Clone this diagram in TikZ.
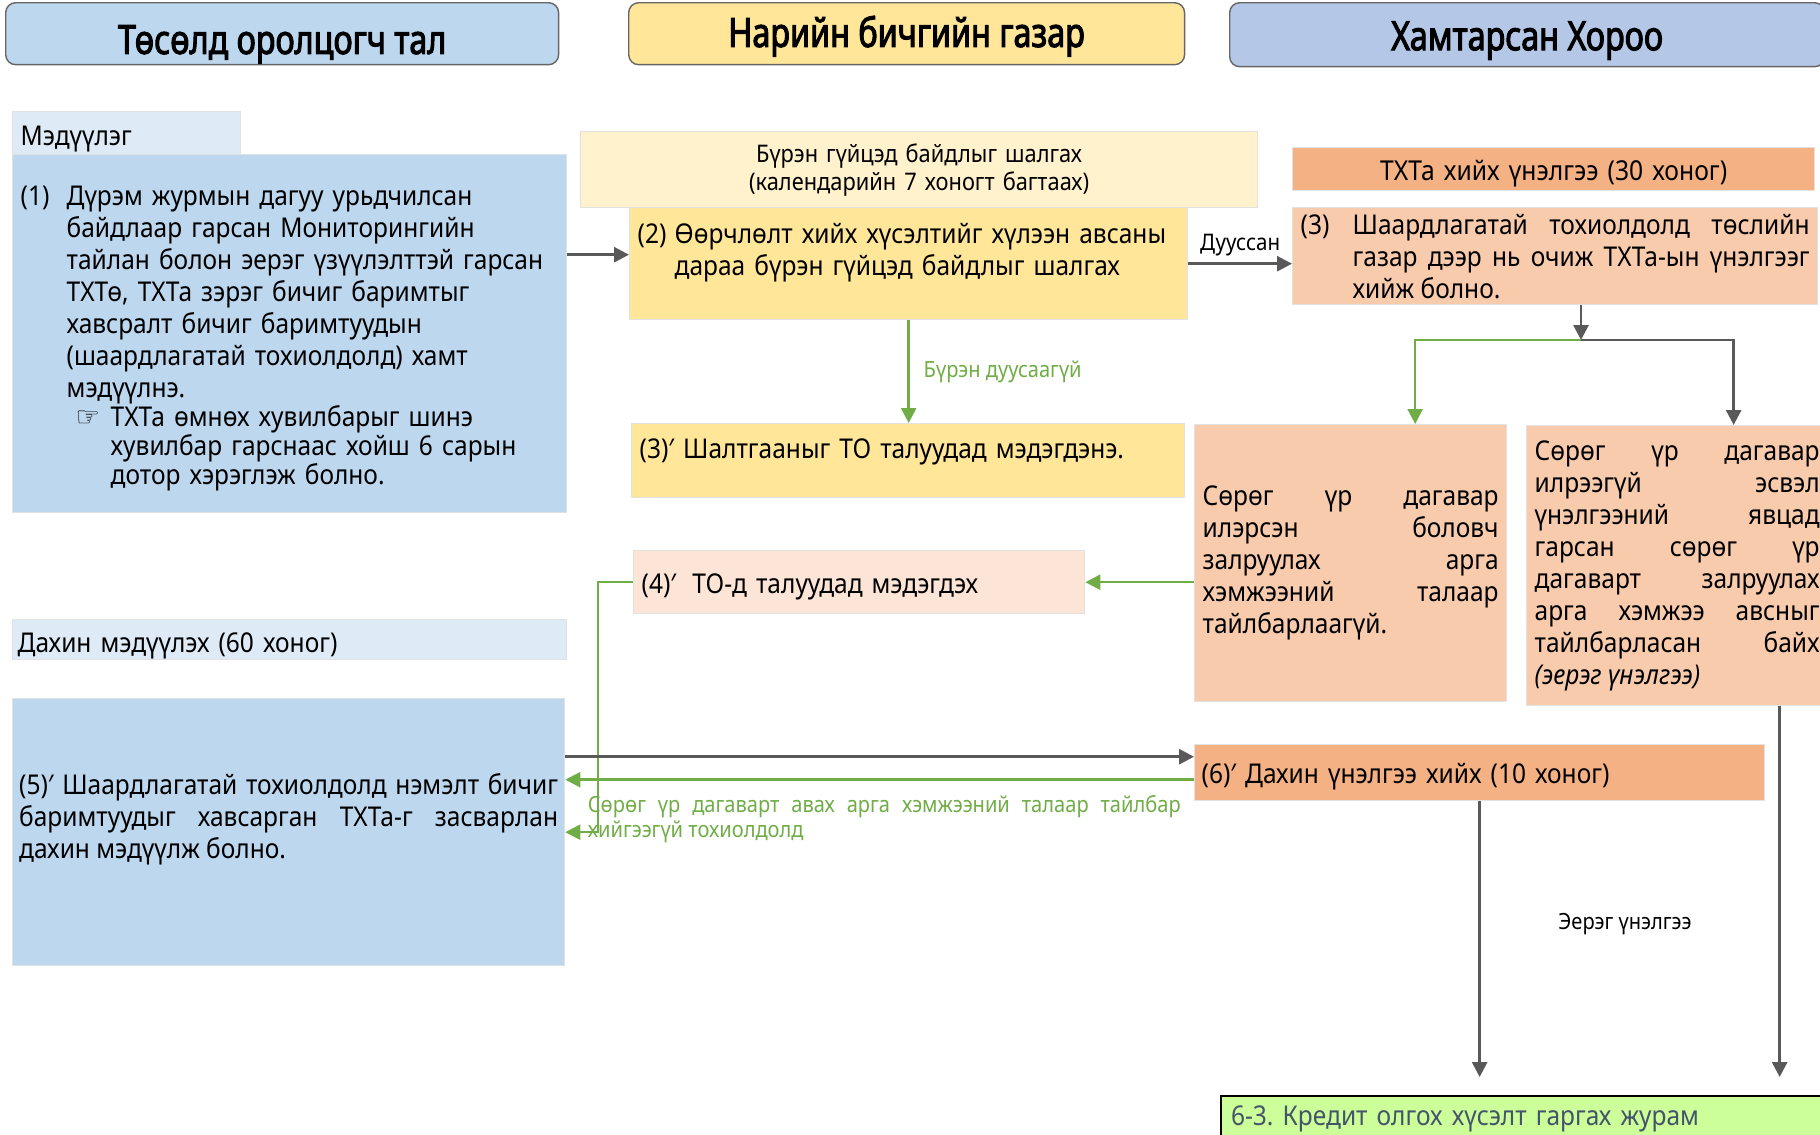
\documentclass[tikz,border=0pt]{standalone}
\usepackage{fontspec}
\setmainfont{Noto Sans}[FakeStretch=0.9]
\newfontfamily\headfont{Noto Sans}[FakeStretch=0.8, FakeBold=2.5]
\newfontfamily\symfont{DejaVu Sans}
\usetikzlibrary{arrows.meta,positioning}
\setlength{\parindent}{0pt}
\frenchspacing

\definecolor{hdblue}{HTML}{BDD7EE}
\definecolor{paleblue}{HTML}{DEEBF7}
\definecolor{laneblue}{HTML}{B4C7E7}
\definecolor{gold}{HTML}{FFE699}
\definecolor{cream}{HTML}{FFF2CC}
\definecolor{apricot}{HTML}{F4B183}
\definecolor{peach}{HTML}{F8CBAD}
\definecolor{palepeach}{HTML}{FCE4D6}
\definecolor{leaf}{HTML}{70AD47}
\definecolor{darkline}{HTML}{595959}
\definecolor{lime}{HTML}{CCFF99}
\definecolor{slate}{HTML}{44546A}
\definecolor{boxedge}{HTML}{E2E2E2}

\newcommand{\tailgap}[1]{\rule[-#1]{0pt}{#1}}
\newcommand{\bodyfont}{\fontsize{15.5}{18.2}\selectfont}
\newcommand{\termfont}{\fontsize{15.6}{18.2}\selectfont}
\newcommand{\smallfont}{\fontsize{13.8}{15.9}\selectfont}
\newcommand{\labelfont}{\fontsize{13}{15.9}\selectfont}
\newcommand{\tinyfont}{\fontsize{12.7}{14.7}\selectfont}

\tikzset{
  box/.style={draw=boxedge, line width=0.8pt, anchor=north west,
    inner xsep=0.16cm, inner ysep=0pt, font=\bodyfont},
  oneline/.style={text depth=0pt, text height=#1},
  head/.style={draw=gray!80!black, rounded corners=0.2cm, line width=0.8pt,
    anchor=north west, text depth=0pt, font=\headfont\fontsize{23}{26}\selectfont},
  gra/.style={darkline, line width=1.6pt, -{Triangle[length=0.3cm,width=0.3cm]}},
  grn/.style={leaf, line width=1.4pt, -{Triangle[length=0.3cm,width=0.3cm]}},
}

\begin{document}
\begin{tikzpicture}[x=0.02cm, y=-0.02cm]
\useasboundingbox (0,0) rectangle (1820,1134);
\clip (0,0) rectangle (1820,1134);

% lane headers
\node[head, fill=hdblue, minimum width=11.06cm, minimum height=1.24cm, text height=0.81cm] (lane1) at (5,2) {Төсөлд оролцогч тал};
\node[head, fill=gold, minimum width=11.12cm, minimum height=1.24cm, text height=0.53cm] (lane2) at (628,2) {Нарийн бичгийн газар};
\node[head, fill=laneblue, minimum width=11.9cm, minimum height=1.28cm, text height=0.62cm] (lane3) at (1229,2) {Хамтарсан Хороо};

% project side
\node[box, fill=paleblue, minimum width=4.56cm, minimum height=0.86cm, text width=4.24cm, align=left, oneline=0.51cm] (apply) at (12,111) {Мэдүүлэг};
\node[box, fill=hdblue, minimum width=11.08cm, minimum height=7.16cm, text width=10.76cm, align=left, text height=0.57cm] (req) at (12,154) {%
\hangindent=0.92cm\hangafter=1
\makebox[0.92cm][l]{(1)}Дүрэм журмын дагуу урьдчилсан\newline
байдлаар гарсан Мониторингийн\newline
тайлан болон эерэг үзүүлэлттэй гарсан\newline
ТХТө, ТХТа зэрэг бичиг баримтыг\newline
хавсралт бичиг баримтуудын\newline
(шаардлагатай тохиолдолд) хамт\newline
мэдүүлнэ.\par
\baselineskip=16.5pt\hangindent=1.8cm\hangafter=0
\hspace*{-0.7cm}\makebox[0.7cm][l]{\symfont ☞}ТХТа өмнөх хувилбарыг шинэ\newline
хувилбар гарснаас хойш 6 сарын\newline
дотор хэрэглэж болно.\par};
\node[box, fill=paleblue, minimum width=11.08cm, minimum height=0.8cm, text width=10.88cm, inner xsep=0.1cm, align=left, oneline=0.51cm] (again) at (12,619) {Дахин мэдүүлэх (60 хоног)};
\node[box, fill=hdblue, minimum width=11.04cm, minimum height=5.34cm, text width=10.78cm, inner xsep=0.13cm, align=justify] (resub) at (12,698) {(5)′ Шаардлагатай тохиолдолд нэмэлт бичиг\linebreak баримтуудыг хавсарган ТХТа-г засварлан\linebreak дахин мэдүүлж болно.\tailgap{0.66cm}\par};

% secretariat
\node[box, fill=cream, minimum width=13.54cm, minimum height=1.52cm, text width=13.22cm, align=center, font=\smallfont] (chk) at (580,131) {Бүрэн гүйцэд байдлыг шалгах\\(календарийн 7 хоногт багтаах)};
\node[box, fill=gold, minimum width=11.16cm, minimum height=2.24cm, text width=10.84cm, align=left] (rev) at (629,207) {\hangindent=0.74cm\hangafter=1\makebox[0.74cm][l]{(2)}Өөрчлөлт хийх хүсэлтийг хүлээн авсаны\newline дараа бүрэн гүйцэд байдлыг шалгах\tailgap{0.56cm}\par};
\node[box, fill=gold, minimum width=11.06cm, minimum height=1.48cm, text width=10.74cm, align=left] (why) at (631,423) {(3)′ Шалтгааныг ТО талуудад мэдэгдэнэ.\tailgap{0.48cm}};
\node[box, fill=palepeach, minimum width=9.02cm, minimum height=1.26cm, text width=8.7cm, align=left, oneline=0.44cm] (tell) at (633,550) {(4)′\hspace{0.6em}ТО-д талуудад мэдэгдэх};

% joint committee
\node[box, fill=apricot, minimum width=10.44cm, minimum height=0.86cm, text width=10.12cm, align=center, font=\termfont, oneline=0.44cm] (term) at (1292,147) {ТХТа хийх үнэлгээ (30 хоног)};
\node[box, fill=peach, minimum width=10.5cm, minimum height=1.94cm, text width=10.18cm, align=justify] (site) at (1292,207) {\hangindent=1.04cm\hangafter=1\makebox[1.04cm][l]{(3)}Шаардлагатай тохиолдолд төслийн\linebreak газар дээр нь очиж ТХТа-ын үнэлгээг\linebreak хийж болно.\par};
\node[box, fill=peach, minimum width=6.24cm, minimum height=5.54cm, text width=5.92cm, align=justify] (neg) at (1194,424) {Сөрөг үр дагавар\linebreak илэрсэн боловч\linebreak залруулах арга\linebreak хэмжээний талаар\linebreak тайлбарлаагүй.};
\node[box, fill=peach, minimum width=6.02cm, minimum height=5.6cm, text width=5.7cm, align=justify] (pos) at (1526,425) {Сөрөг үр дагавар\linebreak илрээгүй эсвэл\linebreak үнэлгээний явцад\linebreak гарсан сөрөг үр\linebreak дагаварт залруулах\linebreak арга хэмжээ авсныг\linebreak тайлбарласан байх\linebreak \textit{(эерэг үнэлгээ)}};
\node[box, fill=apricot, minimum width=11.4cm, minimum height=1.12cm, text width=11.12cm, inner xsep=0.14cm, align=left, oneline=0.44cm] (redo) at (1194,744) {(6)′ Дахин үнэлгээ хийх (10 хоног)};
\node[draw=black, line width=1.2pt, fill=lime, anchor=north west, minimum width=12.4cm, minimum height=0.9cm, text width=12cm, inner xsep=0.2cm, align=left, text=slate, font=\bodyfont] (next) at (1220,1095) {6-3. Кредит олгох хүсэлт гаргах журам};
\node[font=\tinyfont] (poslbl) at (1625,924) {Эерэг үнэлгээ};

% connectors
\coordinate (revin) at ([yshift=0.18cm]rev.west);
\draw[gra] (req.east |- revin) -- (revin);
\draw[gra] (rev.east) -- (rev.east -| site.west) node[midway, above, text=black, font=\labelfont] {Дууссан};
\draw[grn] (rev.south) -- (rev.south |- why.north) node[midway, right, xshift=0.16cm, text=leaf, font=\tinyfont] {Бүрэн дуусаагүй};
\coordinate (fork) at (1581,340);
\draw[gra] (site.south -| fork) -- (fork);
\draw[grn] (fork) -| ([xshift=1.29cm]neg.north);
\draw[gra] (fork) -| ([xshift=1.13cm]pos.north);
\draw[grn] (neg.west |- tell.east) -- (tell.east);
\draw[grn] (tell.west) -- ++(-35,0) |- (resub.east);
\coordinate (redoin) at ([yshift=0.32cm]redo.west);
\coordinate (redoout) at ([yshift=-0.14cm]redo.west);
\draw[gra] (resub.east |- redoin) -- (redoin);
\draw[grn] (redoout) -- (resub.east |- redoout)
  node[pos=0, anchor=north east, xshift=-0.24cm, yshift=-0.28cm, inner sep=0pt, text width=11.86cm, align=justify, text=leaf, font=\tinyfont]
  {Сөрөг үр дагаварт авах арга хэмжээний талаар тайлбар\linebreak хийгээгүй тохиолдолд};
\draw[gra, shorten >=0.36cm] (redo.south) -- (redo.south |- next.north);
\draw[gra, shorten >=0.36cm] ([xshift=2.05cm]pos.south) -- ([xshift=2.05cm]pos.south |- next.north);
\end{tikzpicture}
\end{document}
